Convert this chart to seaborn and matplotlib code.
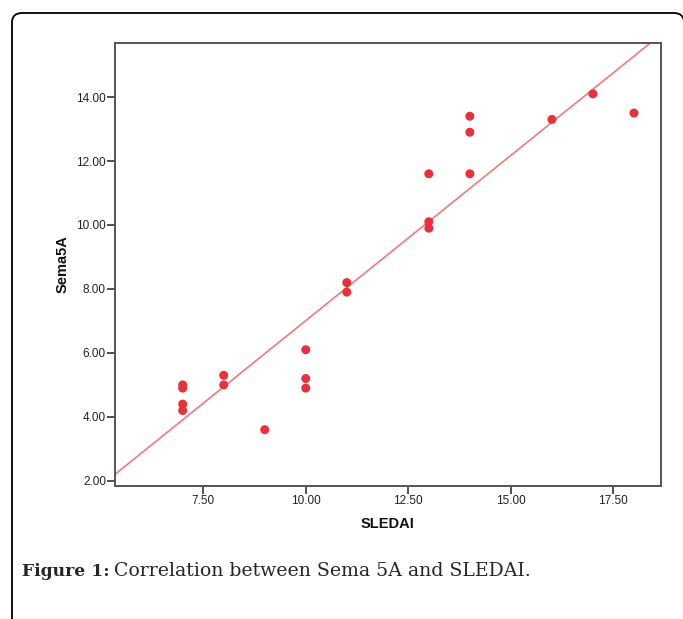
import matplotlib
matplotlib.use("Agg")
import matplotlib.pyplot as plt
from matplotlib.patches import FancyBboxPatch
import seaborn as sns
import pandas as pd

sledai = [7, 7, 7, 7, 8, 8, 9, 10, 10, 10, 11, 11, 13, 13, 13, 14, 14, 14, 16, 17, 18]
sema5a = [5.0, 4.9, 4.4, 4.2, 5.3, 5.0, 3.6, 6.1, 5.2, 4.9, 8.2, 7.9,
          11.6, 10.1, 9.9, 13.4, 12.9, 11.6, 13.3, 14.1, 13.5]
x_ticks = [7.5, 10.0, 12.5, 15.0, 17.5]
y_ticks = [2.0, 4.0, 6.0, 8.0, 10.0, 12.0, 14.0]

df = pd.DataFrame({"SLEDAI": sledai, "Sema5A": sema5a})

sns.set_theme(style="white")
plt.rcParams["font.family"] = ["Liberation Sans", "DejaVu Sans"]

W, H = 683, 619
fig = plt.figure(figsize=(W / 100, H / 100), dpi=100)
ax = fig.add_axes([115 / W, 1 - 486 / H, (661 - 115) / W, (486 - 43) / H])
xlim = (5.35, 18.66)
ylim = (1.84, 15.69)
ax.set_xlim(*xlim)
ax.set_ylim(*ylim)

sns.regplot(data=df, x="SLEDAI", y="Sema5A", ax=ax, ci=None, truncate=False,
            scatter_kws=dict(s=42, color="#E8313B", edgecolor="none", alpha=1, zorder=3),
            line_kws=dict(color="#F27A7A", lw=1.2, zorder=2))

ax.set_xlim(*xlim)
ax.set_ylim(*ylim)
ax.set_xticks(x_ticks)
ax.set_yticks(y_ticks)
ax.set_xticklabels([f"{v:.2f}" for v in x_ticks])
ax.set_yticklabels([f"{v:.2f}" for v in y_ticks])
ax.tick_params(axis="both", which="both", direction="out", length=5.5, width=1.2,
               color="#333333", labelsize=8.5, labelcolor="#222222", pad=1,
               bottom=True, left=True)
for s in ax.spines.values():
    s.set_color("#555555")
    s.set_linewidth(1.4)
ax.set_facecolor("white")
ax.set_xlabel("SLEDAI", fontsize=10.5, fontweight="bold", labelpad=7, color="#111111")
ax.set_ylabel("Sema5A", fontsize=10.5, fontweight="bold", labelpad=5, color="#111111")

# frame
frame = FancyBboxPatch((12 / W, -0.1), (W - 11) / W, 1 - 13 / H + 0.1,
                       boxstyle="round,pad=0,rounding_size=0.015",
                       transform=fig.transFigure, fill=False, edgecolor="black",
                       linewidth=1.3, zorder=0)
fig.patches.append(frame)

serif = ["DejaVu Serif"]
t1 = fig.text(22 / W, 1 - 571 / H, "Figure 1:", fontsize=12.3, fontweight="bold",
              family=serif, va="center", ha="left")
fig.canvas.draw()
bb = t1.get_window_extent(renderer=fig.canvas.get_renderer())
fig.text((bb.x1 + 4) / W, 1 - 571 / H, "Correlation between Sema 5A and SLEDAI.",
         fontsize=13.6, family=serif, va="center", ha="left")

fig.savefig("out.png", dpi=100, facecolor="white")
